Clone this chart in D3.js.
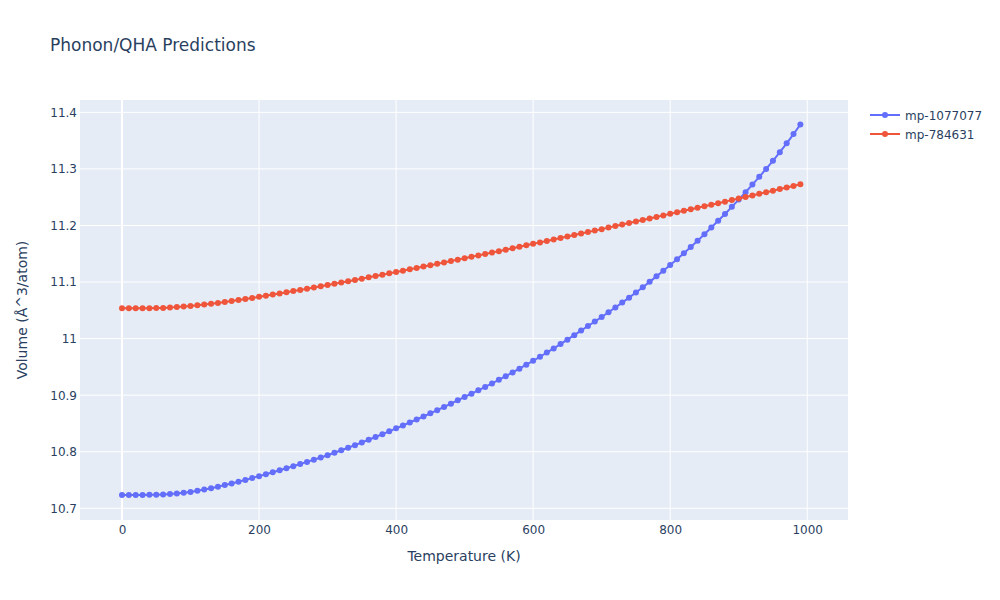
<!DOCTYPE html>
<html>
<head>
<meta charset="utf-8">
<script src="https://cdn.jsdelivr.net/npm/d3@7"></script>
<style>
  body { margin: 0; background: #fff; }
  svg text { font-family: "DejaVu Sans", verdana, arial, sans-serif; fill: #2a3f5f; }
</style>
</head>
<body>
<svg id="chart" width="1000" height="600"></svg>
<script>
// temperatures (K), one point every 10 K
var temps = [0,10,20,30,40,50,60,70,80,90,100,110,120,130,140,150,160,170,180,190,
  200,210,220,230,240,250,260,270,280,290,300,310,320,330,340,350,360,370,380,390,
  400,410,420,430,440,450,460,470,480,490,500,510,520,530,540,550,560,570,580,590,
  600,610,620,630,640,650,660,670,680,690,700,710,720,730,740,750,760,770,780,790,
  800,810,820,830,840,850,860,870,880,890,900,910,920,930,940,950,960,970,980,990];

// mp-1077077
var vol_1077077 = [10.7235,10.7235,10.7235,10.7236,10.7238,10.7241,10.7246,10.7253,10.7262,10.7274,
  10.7290,10.7310,10.7332,10.7356,10.7382,10.7410,10.7439,10.7469,10.7501,10.7534,
  10.7568,10.7602,10.7637,10.7672,10.7708,10.7745,10.7782,10.7820,10.7859,10.7898,
  10.7938,10.7981,10.8025,10.8070,10.8116,10.8163,10.8211,10.8260,10.8310,10.8361,
  10.8413,10.8464,10.8516,10.8569,10.8623,10.8678,10.8734,10.8791,10.8849,10.8908,
  10.8968,10.9026,10.9085,10.9146,10.9208,10.9271,10.9336,10.9402,10.9469,10.9538,
  10.9608,10.9679,10.9752,10.9827,10.9903,10.9981,11.0060,11.0141,11.0223,11.0300,
  11.0382,11.0465,11.0550,11.0636,11.0724,11.0815,11.0908,11.1003,11.1100,11.1199,
  11.1300,11.1404,11.1510,11.1619,11.1731,11.1846,11.1963,11.2082,11.2204,11.2329,
  11.2457,11.2588,11.2722,11.2859,11.2999,11.3143,11.3295,11.3452,11.3615,11.3785];

// mp-784631
var vol_784631 = [11.0535,11.0535,11.0535,11.0536,11.0537,11.0539,11.0543,11.0549,11.0557,11.0566,
  11.0577,11.0589,11.0602,11.0616,11.0631,11.0647,11.0664,11.0682,11.0700,11.0719,
  11.0738,11.0758,11.0778,11.0798,11.0819,11.0840,11.0861,11.0882,11.0903,11.0925,
  11.0947,11.0969,11.0991,11.1014,11.1037,11.1060,11.1083,11.1106,11.1129,11.1153,
  11.1177,11.1201,11.1225,11.1249,11.1273,11.1297,11.1321,11.1346,11.1371,11.1396,
  11.1421,11.1446,11.1471,11.1496,11.1521,11.1546,11.1571,11.1597,11.1623,11.1649,
  11.1675,11.1701,11.1727,11.1753,11.1779,11.1805,11.1831,11.1857,11.1883,11.1909,
  11.1935,11.1962,11.1989,11.2016,11.2043,11.2070,11.2097,11.2124,11.2151,11.2178,
  11.2205,11.2232,11.2259,11.2286,11.2313,11.2340,11.2367,11.2394,11.2421,11.2448,
  11.2475,11.2503,11.2531,11.2559,11.2587,11.2615,11.2643,11.2671,11.2699,11.2727];

var series_names = ['mp-1077077', 'mp-784631'];
var series_colors = ['#636efa', '#EF553B'];
var x_ticks = [0, 200, 400, 600, 800, 1000];
var y_ticks = [10.7, 10.8, 10.9, 11, 11.1, 11.2, 11.3, 11.4];

var margin = {top: 100, right: 152, bottom: 80, left: 80},
  w = 1000 - margin.left - margin.right,
  h = 600 - margin.top - margin.bottom;

var svg = d3.select('#chart');

svg.append('text')
  .attr('x', 50).attr('y', 51)
  .style('font-size', '17px')
  .text('Phonon/QHA Predictions');

var g = svg.append('g').attr('transform', `translate(${margin.left}, ${margin.top})`);

var x_scale = d3.scaleLinear().domain([-61.3, 1059.5]).range([0, w]);
var y_scale = d3.scaleLinear().domain([10.6793, 11.4218]).range([h, 0]);

g.append('rect').attr('width', w).attr('height', h).attr('fill', '#E5ECF6');

// grid lines
g.selectAll('.xgrid').data(x_ticks).join('line').attr('class', 'xgrid')
  .attr('x1', d => x_scale(d)).attr('x2', d => x_scale(d))
  .attr('y1', 0).attr('y2', h)
  .attr('stroke', '#fff').attr('stroke-width', d => d === 0 ? 2 : 1);
g.selectAll('.ygrid').data(y_ticks).join('line').attr('class', 'ygrid')
  .attr('x1', 0).attr('x2', w)
  .attr('y1', d => y_scale(d)).attr('y2', d => y_scale(d))
  .attr('stroke', '#fff').attr('stroke-width', 1);

// axes (labels only)
var fmt = d3.format('.1~f');
var x_axis = g.append('g').attr('transform', `translate(0, ${h})`)
  .call(d3.axisBottom(x_scale).tickValues(x_ticks).tickSize(0).tickPadding(5).tickFormat(d3.format('d')));
var y_axis = g.append('g')
  .call(d3.axisLeft(y_scale).tickValues(y_ticks).tickSize(0).tickPadding(3).tickFormat(fmt));
[x_axis, y_axis].forEach(a => {
  a.select('.domain').remove();
  a.selectAll('text').style('font-size', '12px').attr('fill', '#2a3f5f')
    .style('font-family', '"DejaVu Sans", verdana, arial, sans-serif');
});

// axis titles
svg.append('text')
  .attr('x', margin.left + w / 2).attr('y', 561)
  .attr('text-anchor', 'middle').style('font-size', '14px')
  .text('Temperature (K)');
svg.append('text')
  .attr('transform', `translate(27, ${margin.top + h / 2}) rotate(-90)`)
  .attr('text-anchor', 'middle').style('font-size', '14px')
  .text('Volume (Å^3/atom)');

// series
var all_series = [vol_1077077, vol_784631];
var line = d3.line().x(d => x_scale(d[0])).y(d => y_scale(d[1]));

all_series.forEach((vals, i) => {
  var pts = temps.map((t, j) => [t, vals[j]]);
  var sg = g.append('g');
  sg.append('path').datum(pts)
    .attr('d', line).attr('fill', 'none')
    .attr('stroke', series_colors[i]).attr('stroke-width', 2);
  sg.selectAll('circle').data(pts).join('circle')
    .attr('cx', d => x_scale(d[0])).attr('cy', d => y_scale(d[1]))
    .attr('r', 3).attr('fill', series_colors[i]);
});

// legend
var legend = svg.append('g').attr('transform', 'translate(870, 115)');
series_names.forEach((name, i) => {
  var lg = legend.append('g').attr('transform', `translate(0, ${i * 19})`);
  lg.append('line').attr('x1', 0).attr('x2', 30).attr('y1', 0).attr('y2', 0)
    .attr('stroke', series_colors[i]).attr('stroke-width', 2);
  lg.append('circle').attr('cx', 15).attr('cy', 0).attr('r', 3).attr('fill', series_colors[i]);
  lg.append('text').attr('x', 35).attr('y', 4.5).style('font-size', '12px').text(name);
});
</script>
</body>
</html>
